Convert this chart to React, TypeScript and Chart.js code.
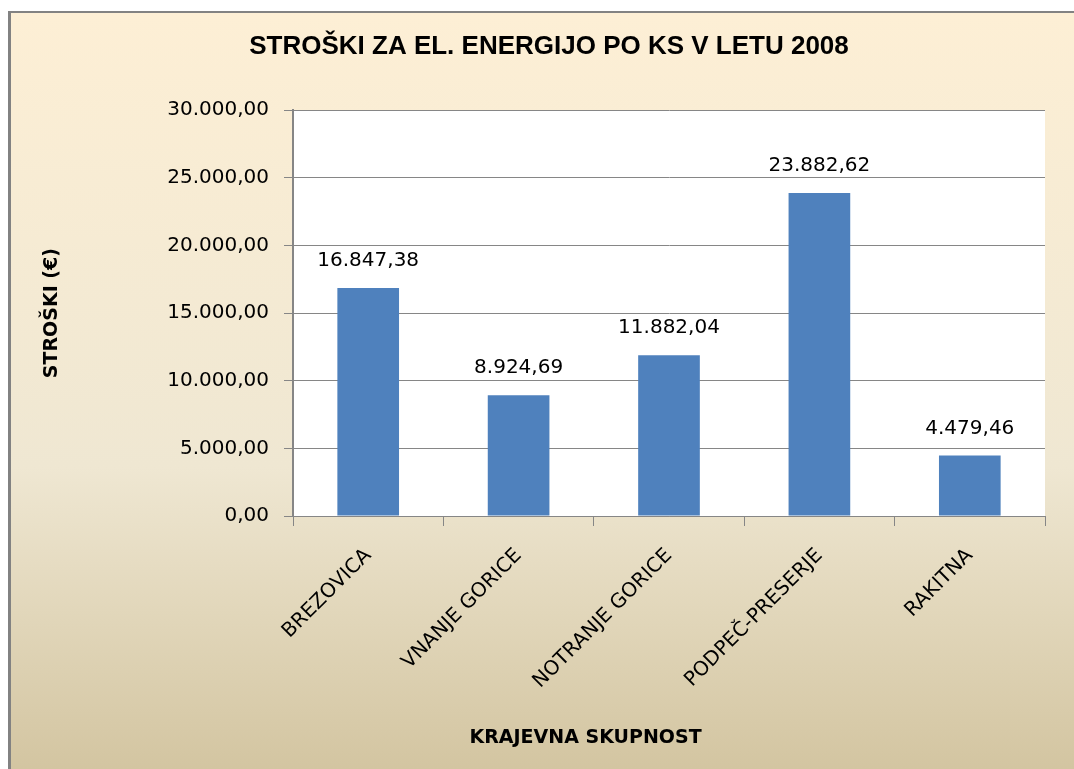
import React, { useEffect, useRef } from "react";
import { Chart, registerables } from "chart.js";

Chart.register(...registerables);

const categories = ["BREZOVICA", "VNANJE GORICE", "NOTRANJE GORICE", "PODPEČ-PRESERJE", "RAKITNA"];
const costs = [16847.38, 8924.69, 11882.04, 23882.62, 4479.46];
const yMin = 0;
const yMax = 30000;
const yStep = 5000;
const chartTitle = "STROŠKI ZA EL. ENERGIJO PO KS V LETU 2008";
const yTitle = "STROŠKI (€)";
const xTitle = "KRAJEVNA SKUPNOST";

const FONT = "'DejaVu Sans', 'Open Sans', sans-serif";
const AXIS_GRAY = "#868686";

function fmt(v: number): string {
  const [i, d] = v.toFixed(2).split(".");
  return i.replace(/\B(?=(\d{3})+(?!\d))/g, ".") + "," + d;
}

const plotBg = {
  id: "plotBg",
  beforeDraw(chart: any) {
    const { ctx, chartArea } = chart;
    ctx.save();
    ctx.fillStyle = "#ffffff";
    ctx.fillRect(chartArea.left, chartArea.top, chartArea.right - chartArea.left, chartArea.bottom - chartArea.top);
    ctx.restore();
  },
};

const dataLabels = {
  id: "dataLabels",
  afterDatasetsDraw(chart: any) {
    const { ctx } = chart;
    const meta = chart.getDatasetMeta(0);
    ctx.save();
    ctx.font = `20px ${FONT}`;
    ctx.fillStyle = "#000";
    ctx.textAlign = "center";
    ctx.textBaseline = "middle";
    meta.data.forEach((el: any, i: number) => {
      ctx.fillText(fmt(chart.data.datasets[0].data[i]), el.x, el.y - 27);
    });
    ctx.restore();
  },
};

const xAxisTitle = {
  id: "xAxisTitle",
  afterDraw(chart: any) {
    const { ctx, chartArea } = chart;
    ctx.save();
    ctx.font = `bold 19px ${FONT}`;
    ctx.fillStyle = "#000";
    ctx.textAlign = "center";
    ctx.textBaseline = "middle";
    const x = chartArea.left + (chartArea.right - chartArea.left) * 0.389;
    ctx.fillText(xTitle, x, chart.height - 31);
    ctx.restore();
  },
};

export default function App() {
  const ref = useRef<HTMLCanvasElement>(null);

  useEffect(() => {
    if (!ref.current) return;
    const chart = new Chart(ref.current, {
      type: "bar",
      data: {
        labels: categories,
        datasets: [
          {
            data: costs,
            backgroundColor: "#4F81BD",
            borderWidth: 0,
            barPercentage: 0.82,
            categoryPercentage: 0.5,
          },
        ],
      },
      options: {
        animation: false,
        responsive: false,
        devicePixelRatio: 1,
        layout: { padding: { left: 13, right: 0, top: 0, bottom: 0 } },
        plugins: {
          legend: { display: false },
          tooltip: { enabled: false },
          title: {
            display: true,
            text: chartTitle,
            color: "#000",
            font: { family: "'Liberation Sans Narrow', 'Liberation Sans', Arial, sans-serif", size: 26, weight: "bold" },
            padding: { top: 18, bottom: 48 },
          },
        },
        scales: {
          x: {
            afterFit(scale: any) {
              scale.height = 253;
            },
            grid: {
              drawOnChartArea: false,
              color: AXIS_GRAY,
              tickLength: 10,
              offset: true,
            },
            border: { display: true, color: AXIS_GRAY, width: 1 },
            ticks: {
              color: "#000",
              font: { family: FONT, size: 20 },
              minRotation: 45,
              maxRotation: 45,
              autoSkip: false,
              padding: 18,
            },
          },
          y: {
            min: yMin,
            max: yMax,
            afterFit(scale: any) {
              scale.width = 269;
            },
            grid: { color: AXIS_GRAY, tickLength: 9 },
            border: { display: true, color: AXIS_GRAY, width: 2 },
            ticks: {
              stepSize: yStep,
              color: "#000",
              font: { family: FONT, size: 20 },
              padding: 15,
              callback: (v: any) => fmt(Number(v)),
            },
            title: {
              display: true,
              text: yTitle,
              color: "#000",
              font: { family: FONT, size: 19, weight: "bold" },
              padding: { top: 17, bottom: 0 },
            },
          },
          yRightSpace: {
            position: "right",
            min: yMin,
            max: yMax,
            afterFit(scale: any) {
              scale.width = 29;
            },
            grid: { display: false, drawOnChartArea: false },
            border: { display: false },
            ticks: { display: false },
          },
        },
      },
      plugins: [plotBg, dataLabels, xAxisTitle],
    });
    return () => chart.destroy();
  }, []);

  return (
    <div
      style={{
        position: "fixed",
        left: 8,
        top: 11,
        width: 1066,
        height: 758,
        boxSizing: "border-box",
        borderLeft: "3px solid #828282",
        borderTop: "2px solid #828282",
        background: "linear-gradient(to bottom, #FDEFD5 0%, #EFE7D2 60%, #D3C5A1 100%)",
      }}
    >
      <canvas ref={ref} width={1063} height={756} style={{ display: "block" }} />
    </div>
  );
}
